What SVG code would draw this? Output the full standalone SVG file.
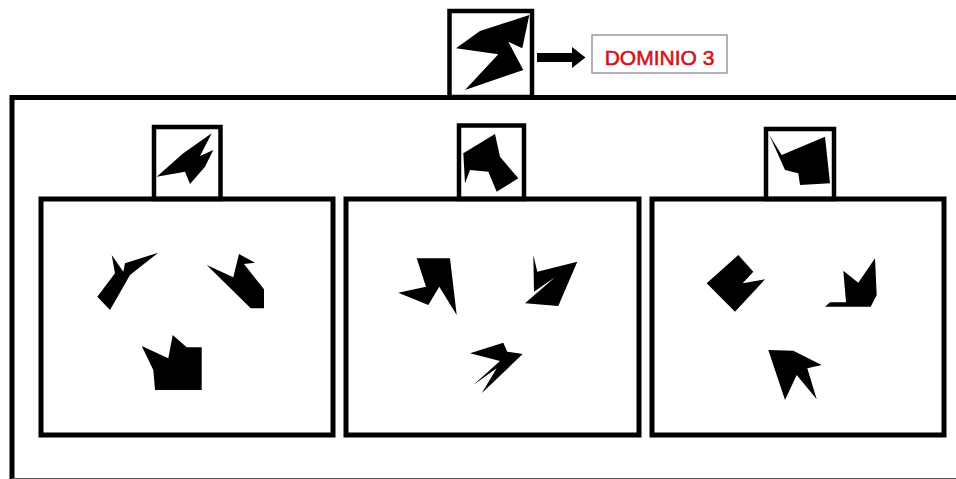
<svg xmlns="http://www.w3.org/2000/svg" width="956" height="479" viewBox="0 0 956 479">
<style>
.frame{fill:none;stroke:#000;stroke-width:5}
.box{fill:#fff;stroke:#000;stroke-width:4.5}
.shape{fill:#000;stroke:none}
.label{fill:#fff;stroke:#9a9a9a;stroke-width:1.5}
.lbltext{font-family:"Liberation Sans",Arial,sans-serif;font-size:21px;fill:#d0141c;stroke:#d0141c;stroke-width:0.6;text-anchor:middle}
</style>
<defs>
<marker id="ah" markerUnits="userSpaceOnUse" markerWidth="14" markerHeight="22" refX="0" refY="10.5" orient="auto">
<path d="M0,0 L13.5,10.5 L0,21 z" fill="#000"/>
</marker>
</defs>
<rect width="956" height="479" fill="#fff"/>
<g id="outer-frame">
<path class="frame" d="M958,97.5 H12 V479"/>
<line x1="12" y1="478.5" x2="956" y2="478.5" stroke="#555" stroke-width="1"/>
</g>
<g id="top-box">
<rect class="box" x="449.5" y="11" width="82.5" height="86"/>
<polygon class="shape" points="529.3,15 522.3,48.3 508.3,41.7 523.3,70 465,90 498.3,54.3 456,48.3 480,31"/>
</g>
<g id="label-dominio">
<rect class="label" x="592" y="35" width="135" height="38"/>
<text class="lbltext" x="659.5" y="65">DOMINIO 3</text>
</g>
<g id="connectors">
<line x1="537" y1="57.5" x2="572" y2="57.5" stroke="#000" stroke-width="9" marker-end="url(#ah)"/>
</g>
<g id="panel-1">
<rect class="box" x="154" y="127" width="66.5" height="72"/>
<polygon class="shape" points="211.7,133.3 200,156 213.3,150 205,166.7 190,184 185,171.7 156.7,176.7 183.3,153.3"/>
<rect class="frame" x="41" y="199" width="292" height="236"/>
<polygon class="shape" points="97.3,296.7 115,273.3 111.7,255 123.3,271.7 125,263.3 158.3,252.7 130,275 110,310"/>
<polygon class="shape" points="206.7,265 233.3,277.3 239,254 255,262.7 244,264 264,289.3 264,308.3 250.7,308.3"/>
<polygon class="shape" points="141.7,346 168.3,358.3 172.7,335 186.7,347.3 201.7,347.3 201.7,390 155,390 153.3,370"/>
</g>
<g id="panel-2">
<rect class="box" x="459" y="125.5" width="65" height="73.5"/>
<polygon class="shape" points="495,134 463.3,153.3 465,183.3 470,170 488.3,171.7 496.7,191.7 518.3,178.3 500,156.7"/>
<rect class="frame" x="346" y="199" width="293" height="236"/>
<polygon class="shape" points="416.7,258.3 450,258.3 456.7,315 439.3,286.7 428.3,305 398.3,292.7 426,286.7"/>
<polygon class="shape" points="533.3,255 537.3,271.7 577.3,261.7 558.3,306 525,303.3 555,277.3 534,291.7"/>
<polygon class="shape" points="470,353.3 503.3,342.7 507.3,351.7 522.7,354 481.7,393.3 496.7,368.3 473.3,385 500,361"/>
</g>
<g id="panel-3">
<rect class="box" x="766" y="129" width="68" height="70"/>
<polygon class="shape" points="769.3,135 781.7,155 825,136.7 830,183.3 800,185 798.3,173.3 785,170"/>
<rect class="frame" x="652" y="199" width="292" height="236"/>
<polygon class="shape" points="706.7,283.3 738.3,255 753.3,271.7 742.7,283.3 765,279.3 735,311.7"/>
<polygon class="shape" points="843.3,270.7 858.3,282.7 875,258.3 876.7,295 870.7,306.7 825,306.7 830,302.3 846,302.3"/>
<polygon class="shape" points="768.3,350 793.3,350.7 821.7,365 807.3,368.3 816.7,399.3 796.7,375 785,400"/>
</g>
</svg>
